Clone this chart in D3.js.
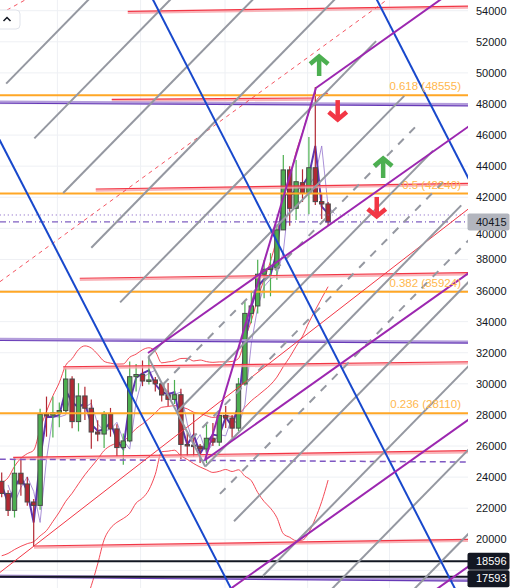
<!DOCTYPE html>
<html><head><meta charset="utf-8">
<script src="https://cdn.jsdelivr.net/npm/d3@7"></script>
<style>html,body{margin:0;padding:0;background:#fff;overflow:hidden}text{font-family:"Liberation Sans",Arial,sans-serif}</style>
</head><body><svg id="c" width="529" height="588"></svg>
<script>
// ---------- DATA (weekly BTC candles) ----------
const weeks = ["2023-01-30","2023-02-06","2023-02-13","2023-02-20","2023-02-27","2023-03-06","2023-03-13","2023-03-20","2023-03-27","2023-04-03","2023-04-10","2023-04-17","2023-04-24","2023-05-01","2023-05-08","2023-05-15","2023-05-22","2023-05-29","2023-06-05","2023-06-12","2023-06-19","2023-06-26","2023-07-03","2023-07-10","2023-07-17","2023-07-24","2023-07-31","2023-08-07","2023-08-14","2023-08-21","2023-08-28","2023-09-04","2023-09-11","2023-09-18","2023-09-25","2023-10-02","2023-10-09","2023-10-16","2023-10-23","2023-10-30","2023-11-06","2023-11-13","2023-11-20","2023-11-27","2023-12-04","2023-12-11","2023-12-18","2023-12-25","2024-01-01","2024-01-08","2024-01-15","2024-01-22"];
const open  = [23730,22950,21860,24250,23560,22400,22180,28040,27980,28140,28280,30310,27570,29220,28430,26900,26770,28050,27100,25900,26330,30460,30600,30180,30250,30000,29280,29000,29300,26100,26060,25990,25810,26500,26250,27970,27800,27150,29990,34530,35010,37050,37370,37450,39900,43760,41290,42940,42260,43900,41720,41570];
const high  = [24300,23150,25250,25250,24000,22600,28400,29180,29180,28800,31000,30480,30040,29820,29000,27650,28260,28450,27400,26800,31430,31280,31500,31800,30440,30100,30050,30250,29690,26830,28140,26130,27490,27480,27300,28580,28000,30380,35280,35980,37980,37970,38400,40250,44720,44000,44400,43800,45880,49100,42200,41700];
const low   = [22700,21500,21400,22800,22150,19570,21900,26600,26550,27200,28170,27140,26940,27680,25820,26300,25880,26600,25350,24800,26250,29500,29850,29950,29500,28860,28580,28700,25170,25350,25330,24900,24900,26000,26000,27160,26530,26950,29870,33900,34530,35500,35630,36700,39900,40170,40540,41700,40900,41500,40600,40200];
const close = [22950,21860,24250,23560,22400,22180,28040,27980,28140,28280,30310,27570,29220,28430,26900,26770,28050,27100,25900,26330,30460,30600,30180,30250,30000,29280,29000,29300,26100,26060,25990,25810,26500,26250,27970,27800,27150,29990,34530,35010,37050,37370,37450,39900,43760,41290,43000,42260,43900,41720,41570,40415];
// median price (H+L)/2 line and Bollinger band lines as read
const hl2     = [23500,22325,23325,24025,23075,21085,25150,27890,27865,28000,29585,28810,28490,28750,27410,26975,27070,27525,26375,25800,28840,30390,30675,30875,29970,29480,29315,29475,27430,26090,26735,25515,26195,26740,26650,27870,27265,28665,32575,34940,36255,36735,37015,38475,42310,42085,42470,42750,43390,45300,41400,40950];
const bbUpper = [23640,23960,24690,25210,25510,25730,27100,28230,29230,30080,31190,31620,32200,32440,32300,31900,31450,31330,31270,31280,31710,31910,32190,32320,32080,31350,31410,31470,31630,31640,31470,31530,31430,31380,31410,31410,31440,31630,32900,34050,35470,36730,37880,39470,41860,43290,44910,46170,47460,48140,48600,48690];
const bbBasis = [18940,19090,19340,19550,19720,19850,20220,20560,21150,21750,22440,22960,23570,24150,24660,25160,25710,26020,26180,26310,26690,27120,27420,27750,28130,28490,28540,28600,28500,28390,28170,28090,27950,27840,27890,27950,27900,28050,28480,28910,29240,29580,29940,30430,31110,31710,32410,33060,33950,34740,35510,36250];
const bbLower = [14240,14220,13990,13890,13930,13970,13340,12890,13070,13420,13690,14300,14940,15860,17020,18420,19970,20710,21090,21340,21670,22330,22650,23180,24180,25630,25670,25730,25370,25140,24870,24650,24470,24300,24370,24490,24360,24470,24060,23770,23010,22430,22000,21390,20360,20130,19910,19950,20440,21340,22420,23810];
// price scale
const priceTicks = [54000,52000,50000,48000,46000,44000,42000,40000,38000,36000,34000,32000,30000,28000,26000,24000,22000,20000];
const gridIdx = [8.7,21.7,34.9,47.8,60.6];
const lastPrice = 40415;
const blackLevels = [18596,17593];
// Fibonacci retracement levels
const fibRatios = ["0.618","0.5","0.382","0.236"];
const fibLevels = [48555,42240,35924,28110];
// drawings: [index, price] anchors
const redLevels = [ [[19.7,53960],[72.9,54300]], [[17.2,48300],[48.6,48385]], [[14.7,42530],[72.9,42900]], [[12.2,36790],[72.9,37150]], [[9.6,31100],[72.9,31420]], [[1.8,25275],[72.9,25700]], [[5.05,19570],[72.9,20000]] ];
const purpleLevels = [ [[-0.3,48080],[72.9,47915]], [[-0.3,32820],[72.9,32645]], [[-0.3,17590],[72.9,17340]] ];
const purpleDashed = [[-0.3,25146],[72.9,24973]];
const dottedLevel = [[-0.3,40860],[72.9,40860]];
const blueLines = [ [[-0.27,45640],[35.78,16870]], [[23.66,54690],[70.77,16870]], [[58.64,54690],[72.86,43270]] ];
const grayStartIdx   = [0.7,5.1,9.6,14.0,18.5,22.9,27.4,31.8,36.3,40.8,45.2,49.7];
const grayStartPrice = [49310,45790,42270,38750,35240,31720,28200,24680,21160,17640,14120,10600];
const grayDashIdx    = [25.2,29.6,34.1];
const grayDashPrice  = [29960,26440,22920];
const grayRise = 420;       // price per week along the gray fan lines
const grayBase = [[22.9,31720],[31.8,24680]];
const channelLines = [ [[49.1,49030],[73,56010]], [[22.86,31980],[73,46570]], [[31.77,25100],[73,37140]], [[35,16600],[73,27710]], [[60,14470],[73,18270]] ];
const impulseLine = [[31.77,25100],[49.1,49030]];
const redStraight = [ [[5.05,19570],[72.7,41180]] ];
const redDashed = [ [[-0.27,36570],[60.16,54690]], [[-0.27,53790],[3.65,54690]] ];
const arrowsUp = [[49.6,51150],[59.6,44590]];
const arrowsDown = [[52.5,46900],[58.6,40670]];

// ---------- SCALES ----------
const PR = 468;
const x = d3.scaleLinear().domain([0,51]).range([1.7, 1.7+51*6.4]);
const y = d3.scaleLinear().domain([20000,54000]).range([539.3,10.7]);
const svg = d3.select('#c');
svg.append('rect').attr('width',529).attr('height',588).attr('fill','#fff');
svg.append('defs').append('clipPath').attr('id','plot').append('rect').attr('x',0).attr('y',0).attr('width',PR).attr('height',588);
const g = svg.append('g').attr('clip-path','url(#plot)');
const line = d3.line();
const P = d => [x(d[0]), y(d[1])];
function ext(a,b){const p1=P(a),p2=P(b);const dx=p2[0]-p1[0],dy=p2[1]-p1[1],k=3000/Math.hypot(dx,dy);return [[p1[0]-dx*k,p1[1]-dy*k],[p2[0]+dx*k,p2[1]+dy*k]];}
function seg(a,b){return [P(a),P(b)];}

// grid
const gridP = d3.range(16000,56001,2000);
g.selectAll('.hg').data(gridP).join('line').attr('x1',0).attr('x2',PR).attr('y1',d=>y(d)).attr('y2',d=>y(d)).attr('stroke','#eef0f4').attr('stroke-width',1);
g.selectAll('.vg').data(gridIdx).join('line').attr('x1',d=>x(d)).attr('x2',d=>x(d)).attr('y1',0).attr('y2',588).attr('stroke','#eef0f4').attr('stroke-width',1);

// Bollinger bands
const bbLine = d3.line().x((d,i)=>x(i)).y(d=>y(d)).curve(d3.curveMonotoneX);
[bbUpper,bbBasis,bbLower].forEach(arr=>{
  g.append('path').attr('d',bbLine(arr)).attr('fill','none').attr('stroke','#f23645').attr('stroke-width',1).attr('opacity',0.9);
});
// median price lines
const mLine = d3.line().x((d,i)=>x(i)).y(d=>y(d));
const mLine1 = d3.line().x((d,i)=>x(i+1)).y(d=>y(d));
g.append('path').attr('d',mLine1(hl2)).attr('fill','none').attr('stroke','#9575cd').attr('stroke-width',1).attr('opacity',0.8);
g.append('path').attr('d',mLine(hl2)).attr('fill','none').attr('stroke','#5e35b1').attr('stroke-width',2);

// candles
const cg = g.append('g');
weeks.forEach((w,i)=>{
  const up = close[i] >= open[i];
  const cx = x(i);
  cg.append('line').attr('x1',cx).attr('x2',cx).attr('y1',y(high[i])).attr('y2',y(low[i])).attr('stroke',up?'#4caf50':'#b22833').attr('stroke-width',1.2);
  const y0 = y(Math.max(open[i],close[i])), y1 = y(Math.min(open[i],close[i]));
  cg.append('rect').attr('x',cx-2.2).attr('y',y0).attr('width',4.4).attr('height',Math.max(1.5,y1-y0)).attr('fill',up?'#4caf50':'#b22833').attr('stroke','#4a4a4a').attr('stroke-width',1);
});

// orange fib levels
fibLevels.forEach((v,k)=>{
  g.append('line').attr('x1',0).attr('x2',PR).attr('y1',y(v)).attr('y2',y(v)).attr('stroke','#ffa726').attr('stroke-width',2);
});
// red horizontal-ish lines
redLevels.forEach(s=>{
  const pts = seg(s[0],s[1]);
  g.append('path').attr('d',line(pts.map(p=>[p[0],p[1]+1.5]))).attr('stroke','#f7a1a8').attr('stroke-width',2.5).attr('fill','none').attr('opacity',0.8);
  g.append('path').attr('d',line(pts)).attr('stroke','#f23645').attr('stroke-width',1.2).attr('fill','none');
});
// purple horizontals
purpleLevels.forEach(s=>{
  const pts = seg(s[0],s[1]);
  g.append('path').attr('d',line(pts.map(p=>[p[0],p[1]-1]))).attr('stroke','#b39ddb').attr('stroke-width',2.5).attr('fill','none');
  g.append('path').attr('d',line(pts.map(p=>[p[0],p[1]+0.5]))).attr('stroke','#673ab7').attr('stroke-width',1.2).attr('fill','none');
});
g.append('path').attr('d',line(seg(purpleDashed[0],purpleDashed[1]))).attr('stroke','#7e57c2').attr('stroke-width',1.5).attr('stroke-dasharray','6,4').attr('fill','none');
g.append('path').attr('d',line(seg(dottedLevel[0],dottedLevel[1]))).attr('stroke','#7e57c2').attr('stroke-width',1).attr('stroke-dasharray','1,3').attr('fill','none');
g.append('line').attr('x1',0).attr('x2',PR).attr('y1',y(lastPrice)).attr('y2',y(lastPrice)).attr('stroke','#5e35b1').attr('stroke-width',1).attr('stroke-dasharray','6,3,1,3');
// black levels
blackLevels.forEach(v=>{
  g.append('line').attr('x1',0).attr('x2',PR).attr('y1',y(v)).attr('y2',y(v)).attr('stroke','#131722').attr('stroke-width',2);
});
// red straight & dashed
redStraight.forEach(s=>g.append('path').attr('d',line(ext(s[0],s[1]))).attr('stroke','#f23645').attr('stroke-width',1).attr('fill','none'));
redDashed.forEach(s=>g.append('path').attr('d',line(ext(s[0],s[1]))).attr('stroke','#f23645').attr('stroke-width',1).attr('stroke-dasharray','4,4').attr('fill','none').attr('opacity',0.85));
// gray fan
grayStartIdx.forEach((i0,k)=>{
  const a=[i0,grayStartPrice[k]], b=[i0+40,grayStartPrice[k]+40*grayRise];
  g.append('path').attr('d',line(seg(a,b))).attr('stroke','#9598a1').attr('stroke-width',2).attr('fill','none');
});
grayDashIdx.forEach((i0,k)=>{
  const a=[i0,grayDashPrice[k]], b=[i0+40,grayDashPrice[k]+40*grayRise];
  g.append('path').attr('d',line(seg(a,b))).attr('stroke','#9598a1').attr('stroke-width',2).attr('stroke-dasharray','8,8').attr('fill','none');
});
g.append('path').attr('d',line(seg(grayBase[0],grayBase[1]))).attr('stroke','#9598a1').attr('stroke-width',2).attr('fill','none');
// blue lines
blueLines.forEach(s=>g.append('path').attr('d',line(ext(s[0],s[1]))).attr('stroke','#1848cc').attr('stroke-width',2).attr('fill','none'));
// purple channel
channelLines.forEach(s=>g.append('path').attr('d',line(seg(s[0],s[1]))).attr('stroke','#9c27b0').attr('stroke-width',2).attr('fill','none'));
g.append('path').attr('d',line(seg(impulseLine[0],impulseLine[1]))).attr('stroke','#9c27b0').attr('stroke-width',2).attr('fill','none');

// fib labels
fibLevels.forEach((v,k)=>{
  g.append('text').attr('x',461).attr('y',y(v)-5).attr('text-anchor','end').attr('font-size',11.5).attr('fill','#ffb74d').text(fibRatios[k]+' ('+v+')');
});
// arrows
function arrow(d,dir,color){
  const [ax,ay]=P(d); const s=dir; // s=1 up (tip at top), -1 down
  g.append('line').attr('x1',ax).attr('x2',ax).attr('y1',ay+s*1).attr('y2',ay+s*21).attr('stroke',color).attr('stroke-width',4.5);
  g.append('path').attr('d',`M${ax-9},${ay+s*9}L${ax},${ay+s*1.5}L${ax+9},${ay+s*9}`).attr('stroke',color).attr('stroke-width',4.5).attr('fill','none').attr('stroke-linejoin','miter');
}
arrowsUp.forEach(d=>arrow(d,1,'#4caf50'));
arrowsDown.forEach(d=>arrow(d,-1,'#f23645'));

// ---------- PRICE AXIS ----------
const axis = d3.axisRight(y).tickValues(priceTicks).tickSize(0).tickPadding(0).tickFormat(d3.format('d'));
const ag = svg.append('g').attr('transform','translate(476,0)').call(axis);
ag.select('.domain').remove();
ag.selectAll('text').attr('font-size',11).attr('fill','#131722').attr('font-family','"Liberation Sans",Arial,sans-serif');
// the 40000 label sits just under the last-price box
ag.selectAll('.tick').filter(d=>d===40000).select('text').attr('y',5.5);
// price labels
function box(v,cy,bg,fg){
  svg.append('rect').attr('x',467.5).attr('y',cy-8.5).attr('width',42).attr('height',17).attr('rx',2).attr('fill',bg);
  svg.append('text').attr('x',476).attr('y',cy).attr('dy','0.35em').attr('font-size',11).attr('fill',fg).text(v);
}
box(lastPrice,y(lastPrice),'#b2b5be','#131722');
const c1 = y(blackLevels[0]);
box(blackLevels[0],c1,'#131722','#ffffff');
box(blackLevels[1],Math.max(y(blackLevels[1]),c1+17.5),'#131722','#ffffff');
// collapse button
svg.append('rect').attr('x',-8).attr('y',10).attr('width',28).attr('height',19).attr('rx',4).attr('fill','#fff').attr('stroke','#e0e3eb');
svg.append('path').attr('d','M3.5,21L7,17.5L10.5,21').attr('stroke','#131722').attr('stroke-width',1.5).attr('fill','none');
</script></body></html>
